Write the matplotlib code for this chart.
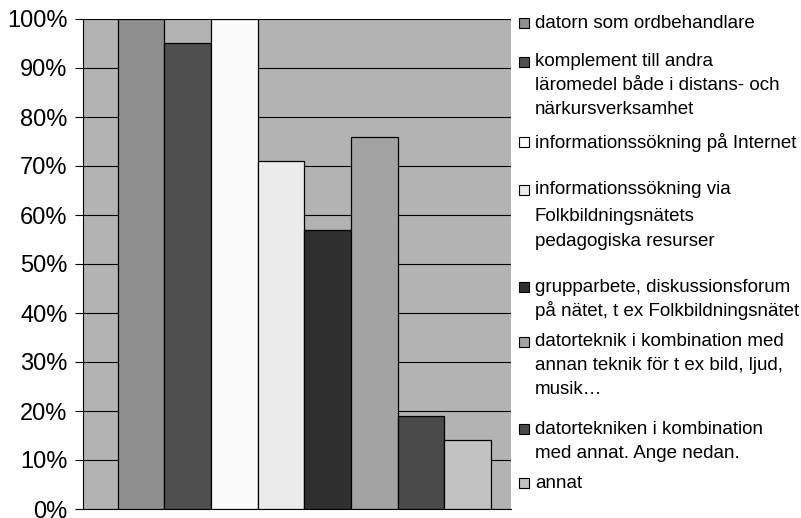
import matplotlib
matplotlib.use("Agg")
import matplotlib.pyplot as plt
from matplotlib.patches import Rectangle

plt.rcParams['font.family'] = ['Liberation Sans', 'DejaVu Sans']

# data
labels = [
    'datorn som ordbehandlare',
    'komplement till andra\nläromedel både i distans- och\nnärkursverksamhet',
    'informationssökning på Internet',
    'informationssökning via\nFolkbildningsnätets\npedagogiska resurser',
    'grupparbete, diskussionsforum\npå nätet, t ex Folkbildningsnätet',
    'datorteknik i kombination med\nannan teknik för t ex bild, ljud,\nmusik…',
    'datortekniken i kombination\nmed annat. Ange nedan.',
    'annat',
]
values = [100, 95, 100, 71, 57, 76, 19, 14]
yticks = [0, 10, 20, 30, 40, 50, 60, 70, 80, 90, 100]

# style
BG = '#b3b3b3'
COLORS = ['#8f8f8f', '#4f4f4f', '#fbfbfb', '#ebebeb',
          '#2f2f2f', '#a3a3a3', '#4a4a4a', '#c2c2c2']

W, H = 801, 518
fig = plt.figure(figsize=(W / 100, H / 100), dpi=100, facecolor='white')
ax = fig.add_axes([83 / W, 9 / H, 428 / W, 490 / H])
ax.set_facecolor(BG)

xs = list(range(len(values)))
ax.bar(xs, values, width=1.0, color=COLORS, edgecolor='black',
       linewidth=0.9, zorder=3)

ax.set_xlim(-1.243, 7.928)
ax.set_ylim(0, 100)
ax.set_yticks(yticks)
ax.set_yticklabels([f'{t}%' for t in yticks], fontsize=17)
ax.set_xticks([])
ax.tick_params(axis='y', length=6, width=0.8, pad=5, direction='out')
ax.yaxis.grid(True, color='black', linewidth=0.8, zorder=0)
ax.set_axisbelow(True)
for s in ('top', 'right'):
    ax.spines[s].set_visible(False)
for s in ('left', 'bottom'):
    ax.spines[s].set_color('black')
    ax.spines[s].set_linewidth(0.8)

# legend drawn by hand (pixel layout from top)
entry_y = [23, 62, 142, 190, 287, 342, 429, 483]
line_gap = 24
for lab, col, y0 in zip(labels, COLORS, entry_y):
    fig.add_artist(Rectangle((519 / W, 1 - (y0 + 5) / H), 10 / W, 10 / H,
                             transform=fig.transFigure, facecolor=col,
                             edgecolor='black', linewidth=0.8))
    for i, line in enumerate(lab.split('\n')):
        extra = 3 if (lab.startswith('informationssökning via') and i > 0) else 0
        fig.text(535 / W, 1 - (y0 + i * line_gap + extra) / H, line,
                 fontsize=13.5, va='center', ha='left', color='black')

fig.savefig('out.png', dpi=100, facecolor='white')
